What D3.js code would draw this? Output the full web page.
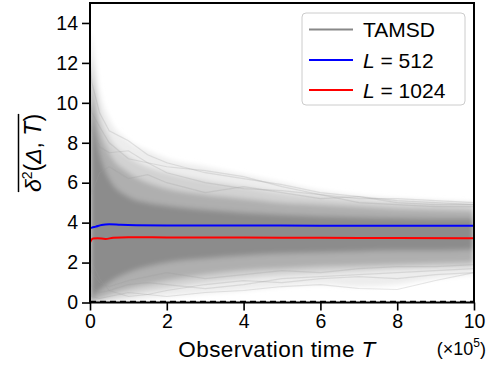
<!DOCTYPE html>
<html><head><meta charset="utf-8">
<script src="https://cdn.jsdelivr.net/npm/d3@7"></script>
<style>body{margin:0;background:#fff}svg{display:block}text{font-family:"Liberation Sans",Arial,sans-serif}</style>
</head><body>
<script>
// x in units of 1e5
const bandX    = [0, 0.05, 0.25, 0.5, 1, 1.5, 2, 3, 4, 5, 6, 7, 8, 9, 10];
const faintHi  = [13.6, 13.2, 10.6, 9.2, 8.1, 7.6, 7.2, 6.8, 6.4, 6.0, 5.6, 5.35, 5.2, 5.1, 5.0];
const faintLo  = [0, 0, 0, 0.02, 0.08, 0.2, 0.3, 0.45, 0.6, 0.8, 0.9, 0.8, 0.9, 1.2, 1.4];
const lightHi  = [12.4, 12.0, 9.6, 8.3, 7.3, 6.8, 6.5, 6.1, 5.8, 5.5, 5.3, 5.15, 5.05, 5.0, 4.95];
const lightLo  = [0, 0, 0.05, 0.15, 0.35, 0.55, 0.7, 1.0, 1.2, 1.35, 1.45, 1.55, 1.65, 1.7, 1.75];
const midHi    = [11.2, 10.8, 8.7, 7.5, 6.5, 6.0, 5.7, 5.4, 5.2, 5.0, 4.9, 4.8, 4.7, 4.65, 4.6];
const midLo    = [0, 0.05, 0.2, 0.4, 0.7, 0.9, 1.1, 1.4, 1.6, 1.7, 1.8, 1.85, 1.9, 1.95, 2.0];
const coreHi   = [10.2, 9.6, 7.5, 6.2, 5.3, 5.0, 4.85, 4.65, 4.5, 4.4, 4.32, 4.27, 4.23, 4.2, 4.2];
const coreLo   = [0, 0.2, 0.6, 1.0, 1.5, 1.8, 2.0, 2.2, 2.35, 2.45, 2.5, 2.55, 2.6, 2.6, 2.65];

// a few individual faint TAMSD traces (sampled at bandX)
const trace1 = [12, 11, 9.5, 8.6, 8.1, 7.4, 7.0, 6.5, 6.2, 5.9, 5.5, 5.3, 5.1, 5.0, 4.9];
const trace2 = [10, 9.5, 8.8, 8.0, 7.2, 7.0, 6.8, 6.6, 6.3, 5.8, 5.4, 5.2, 5.2, 5.1, 5.0];
const trace3 = [9, 8.6, 7.8, 7.5, 7.6, 7.0, 6.5, 6.0, 5.7, 5.6, 5.4, 5.0, 4.9, 4.8, 4.8];
const trace4 = [0.5, 0.3, 0.2, 0.3, 0.5, 0.4, 0.3, 0.5, 0.6, 0.8, 0.9, 0.7, 0.65, 1.1, 1.5];
const trace5 = [1, 0.8, 0.5, 0.6, 0.9, 1.0, 0.9, 0.7, 0.9, 1.2, 1.3, 1.4, 1.5, 1.6, 1.7];
const trace6 = [2, 1.5, 1.0, 0.8, 1.1, 1.3, 1.5, 1.2, 1.4, 1.6, 1.5, 1.7, 1.8, 1.8, 1.9];
const trace7 = [6, 5.5, 6.5, 6.8, 6.2, 6.4, 6.0, 5.5, 5.8, 5.5, 5.2, 5.3, 5.0, 4.9, 4.9];
const trace8 = [3, 2.0, 1.2, 0.6, 0.3, 0.4, 0.6, 0.9, 1.1, 1.0, 1.2, 1.3, 1.2, 1.4, 1.5];

const blueX = [0, 0.05, 0.15, 0.3, 0.5, 0.8, 1.2, 2, 4, 6, 8, 10];
const blueY = [3.72, 3.75, 3.8, 3.88, 3.92, 3.89, 3.87, 3.86, 3.86, 3.85, 3.85, 3.84];
const redX  = [0, 0.03, 0.08, 0.2, 0.4, 0.6, 1.0, 2, 4, 6, 8, 10];
const redY  = [3.0, 3.12, 3.2, 3.22, 3.18, 3.24, 3.27, 3.26, 3.25, 3.24, 3.23, 3.22];

const xTicks = [0, 2, 4, 6, 8, 10];
const yTicks = [0, 2, 4, 6, 8, 10, 12, 14];
const legendLabels = ["TAMSD", "L = 512", "L = 1024"];

const W = 499, H = 366;
const svg = d3.select("body").append("svg").attr("width", W).attr("height", H);
const x = d3.scaleLinear().domain([0, 10]).range([90, 474]);
const y = d3.scaleLinear().domain([0, 15]).range([302.5, 3]);

const defs = svg.append("defs");
defs.append("clipPath").attr("id", "clip").append("rect")
  .attr("x", x(0)).attr("y", y(15)).attr("width", x(10) - x(0)).attr("height", y(0) - y(15));
defs.append("filter").attr("id", "blur").attr("x", "-5%").attr("y", "-5%").attr("width", "110%").attr("height", "110%")
  .append("feGaussianBlur").attr("stdDeviation", 2.5);

const g = svg.append("g").attr("clip-path", "url(#clip)");
const bands = g.append("g").attr("filter", "url(#blur)");
const area = (hi, lo) => d3.area().x((d, i) => x(bandX[i])).y0((d, i) => y(lo[i])).y1((d, i) => y(hi[i])).curve(d3.curveMonotoneX)(bandX);
[[faintHi, faintLo, "#ededed"], [lightHi, lightLo, "#d2d2d2"], [midHi, midLo, "#afafaf"], [coreHi, coreLo, "#8c8c8c"]]
  .forEach(([hi, lo, c]) => bands.append("path").attr("d", area(hi, lo)).attr("fill", c));

const tline = (ys) => d3.line().x((d, i) => x(bandX[i])).y((d, i) => y(ys[i]))(bandX);
[trace1, trace2, trace3, trace4, trace5, trace6, trace7, trace8].forEach(t =>
  g.append("path").attr("d", tline(t)).attr("fill", "none").attr("stroke", "#9a9a9a").attr("stroke-opacity", 0.25).attr("stroke-width", 1.2));

// dashed zero line
g.append("line").attr("x1", x(0)).attr("x2", x(10)).attr("y1", y(0) - 1).attr("y2", y(0) - 1)
  .attr("stroke", "#000").attr("stroke-width", 1.5).attr("stroke-dasharray", "6,4");

const line = (xs, ys) => d3.line().x((d, i) => x(xs[i])).y((d, i) => y(ys[i])).curve(d3.curveMonotoneX)(xs);
g.append("path").attr("d", line(blueX, blueY)).attr("fill", "none").attr("stroke", "#0000ff").attr("stroke-width", 2);
g.append("path").attr("d", line(redX, redY)).attr("fill", "none").attr("stroke", "#ff0000").attr("stroke-width", 2);

// axes
const xa = svg.append("g").attr("transform", `translate(0,${y(0)})`)
  .call(d3.axisBottom(x).tickValues(xTicks).tickSize(8).tickPadding(4).tickSizeOuter(0));
const ya = svg.append("g").attr("transform", `translate(${x(0)},0)`)
  .call(d3.axisLeft(y).tickValues(yTicks).tickSize(8).tickPadding(4).tickSizeOuter(0));
[xa, ya].forEach(a => {
  a.select(".domain").remove();
  a.selectAll("line").attr("stroke", "#000").attr("stroke-width", 1.6);
  a.selectAll("text").attr("font-size", 19.5).attr("fill", "#000").attr("font-family", '"Liberation Sans",Arial,sans-serif');
});
svg.append("rect").attr("x", x(0)).attr("y", y(15)).attr("width", x(10) - x(0)).attr("height", y(0) - y(15))
  .attr("fill", "none").attr("stroke", "#000").attr("stroke-width", 2);

// x label
const xl = svg.append("text").attr("x", 277).attr("y", 356.5).attr("text-anchor", "middle").attr("font-size", 22.5).attr("letter-spacing", 0.4);
xl.append("tspan").text("Observation time ");
xl.append("tspan").attr("font-style", "italic").text("T");
const xs5 = svg.append("text").attr("x", 486).attr("y", 355).attr("text-anchor", "end").attr("font-size", 18);
xs5.append("tspan").text("(×10");
xs5.append("tspan").attr("font-size", 12).attr("dy", -8).text("5");
xs5.append("tspan").attr("dy", 8).text(")");

// y label
const yl = svg.append("text").attr("transform", "translate(41,153) rotate(-90)").attr("text-anchor", "middle").attr("font-size", 23);
yl.append("tspan").attr("font-style", "italic").text("δ");
yl.append("tspan").attr("font-size", 14).attr("dy", -9).text("2");
yl.append("tspan").attr("dy", 9).text("(");
yl.append("tspan").attr("font-style", "italic").text("Δ");
yl.append("tspan").text(", ");
yl.append("tspan").attr("font-style", "italic").text("T");
yl.append("tspan").text(")");
const bb = yl.node().getBBox();
svg.append("line").attr("transform", "translate(41,153) rotate(-90)")
  .attr("x1", bb.x).attr("x2", bb.x + bb.width).attr("y1", bb.y - 0.5).attr("y2", bb.y - 0.5)
  .attr("stroke", "#000").attr("stroke-width", 1.5);

// legend
const lg = svg.append("g");
lg.append("rect").attr("x", 302).attr("y", 13).attr("width", 163).attr("height", 92).attr("rx", 4)
  .attr("fill", "#fff").attr("fill-opacity", 0.85).attr("stroke", "#cccccc").attr("stroke-width", 1);
const lcol = ["#888888", "#0000ff", "#ff0000"];
const lrow = [29.5, 60, 90];
legendLabels.forEach((lab, i) => {
  const cy = lrow[i];
  lg.append("line").attr("x1", 309).attr("x2", 353).attr("y1", cy).attr("y2", cy).attr("stroke", lcol[i]).attr("stroke-width", 2);
  const t = lg.append("text").attr("x", 363).attr("y", cy + 7.5).attr("font-size", 21);
  if (i === 0) t.text(lab);
  else {
    const parts = lab.split(" = ");
    t.append("tspan").attr("font-style", "italic").text(parts[0]);
    t.append("tspan").text(" = " + parts[1]);
  }
});
</script>
</body></html>
